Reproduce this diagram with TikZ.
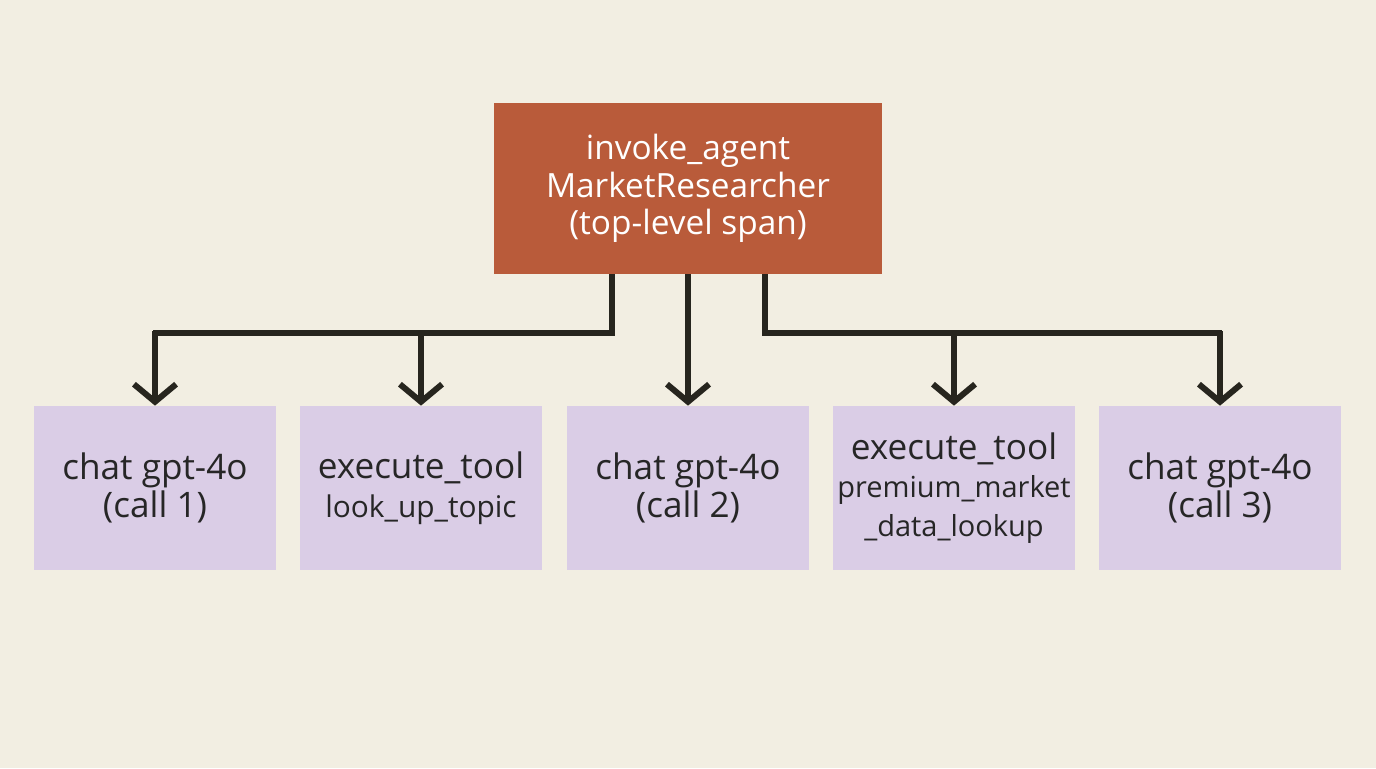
\documentclass[tikz,border=0pt]{standalone}
\usepackage{fontspec}
\setmainfont{Open Sans}
\usetikzlibrary{arrows.meta}
\definecolor{bg}{HTML}{F2EEE2}
\definecolor{top}{HTML}{B95B3A}
\definecolor{sub}{HTML}{DACDE6}
\definecolor{ln}{HTML}{27251E}
\begin{document}
\begin{tikzpicture}[x=0.02cm,y=-0.02cm,
 box/.style={minimum width=242*0.02cm,minimum height=164*0.02cm,inner sep=0pt,fill=sub,draw=none,align=center,font=\fontsize{20}{22}\selectfont,text=black!85},
 arr/.style={line width=3.4pt,draw=ln,-{Straight Barb[length=10pt,width=24pt,line width=3.4pt]}},
 ln/.style={line width=3.4pt,draw=ln}]
\fill[bg] (0,0) rectangle (1376,768);
\useasboundingbox (0,0) rectangle (1376,768);
\node[fill=top,minimum width=388*0.02cm,minimum height=171*0.02cm,align=center,text=white,font=\fontsize{19}{21.5}\selectfont] (t) at (688,188.5) {invoke\_agent\\MarketResearcher\\(top-level span)};
\node[box] (b1) at (155,488) {chat gpt-4o\\(call 1)};
\node[box] (b2) at (421,488) {execute\_tool\\{\fontsize{17}{20}\selectfont look\_up\_topic}};
\node[box] (b3) at (688,488) {chat gpt-4o\\(call 2)};
\node[box] (b4) at (954,488) {execute\_tool\\{\fontsize{16.5}{20}\selectfont premium\_market}\\{\fontsize{16.5}{20}\selectfont \_data\_lookup}};
\node[box] (b5) at (1220,488) {chat gpt-4o\\(call 3)};
\coordinate (l0) at (612,274);
\coordinate (l1) at (612,333);
\coordinate (r0) at (765,274);
\coordinate (r1) at (765,333);
\draw[ln] (l0) -- (l1) -- (153.3,333);
\draw[ln] (r0) -- (r1) -- (1221.7,333);
\draw[arr] (155,331.3) -- (b1.north);
\draw[arr] (421,333) -- (b2.north);
\draw[arr] (t.south) -- (b3.north);
\draw[arr] (954,333) -- (b4.north);
\draw[arr] (1220,331.3) -- (b5.north);
\end{tikzpicture}
\end{document}
